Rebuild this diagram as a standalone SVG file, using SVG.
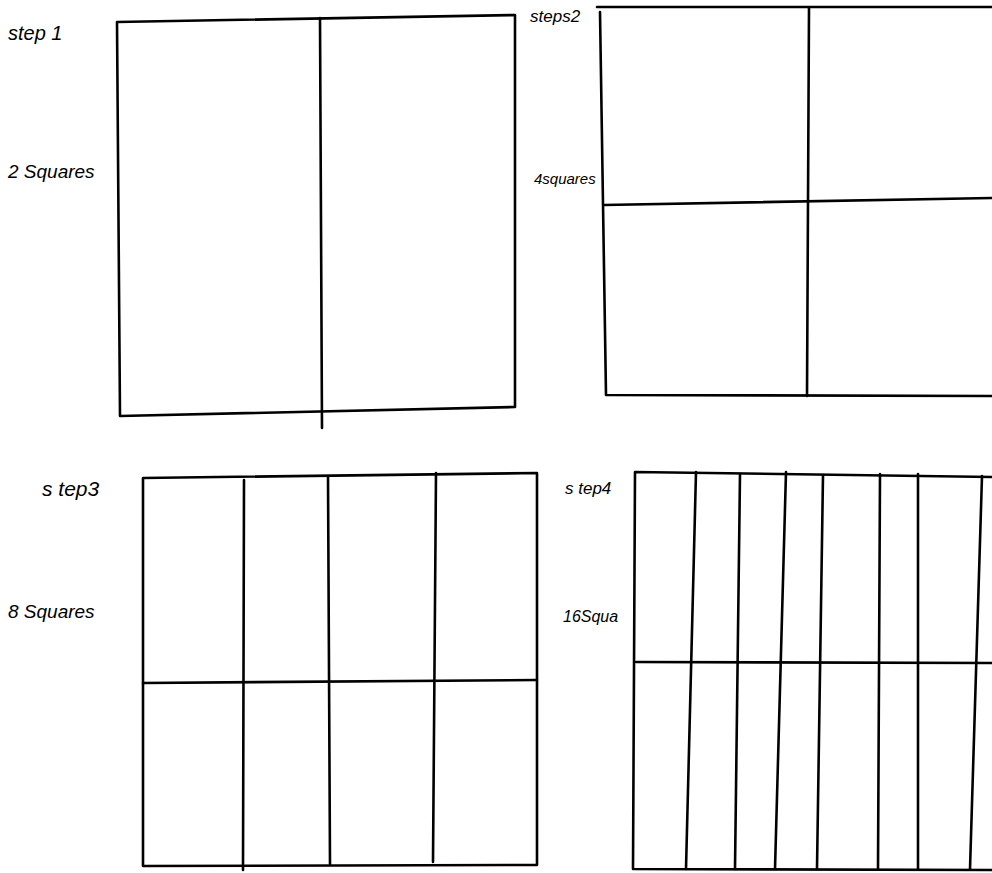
<svg xmlns="http://www.w3.org/2000/svg" width="992" height="873" viewBox="0 0 992 873">
<style>
.ln{fill:none;stroke:#000;stroke-width:2.6;stroke-linecap:round;stroke-linejoin:round}
.lb{font-family:"Liberation Sans",Arial,sans-serif;fill:#000;font-style:italic}
</style>
<rect width="992" height="873" fill="#fff"/>
<g id="step1">
<path class="ln" d="M117,22 L515,15 L515,407 L120,416 Z"/>
<path class="ln" d="M320,18 L322,428"/>
<text class="lb" x="8" y="40" font-size="20">step 1</text>
<text class="lb" x="8" y="178" font-size="19">2 Squares</text>
</g>
<g id="step2">
<path class="ln" d="M992,7 L597,7"/>
<path class="ln" d="M600,12 L606,395 L992,396"/>
<path class="ln" d="M809,8 L807,396"/>
<path class="ln" d="M604,205 L992,198"/>
<text class="lb" x="530" y="22" font-size="17">steps2</text>
<text class="lb" x="534" y="184" font-size="15">4squares</text>
</g>
<g id="step3">
<path class="ln" d="M143,478 L537,473 L537,865 L143,866 Z"/>
<path class="ln" d="M244,480 L243,870"/>
<path class="ln" d="M328,476 L330,864"/>
<path class="ln" d="M436,473 L433,862"/>
<path class="ln" d="M143,683 L537,680"/>
<text class="lb" x="42" y="496" font-size="21">s tep3</text>
<text class="lb" x="8" y="618" font-size="19">8 Squares</text>
</g>
<g id="step4">
<path class="ln" d="M992,477 L635,472 L633,869 L992,870"/>
<path class="ln" d="M696,472 L686,869"/>
<path class="ln" d="M740,474 L735,869"/>
<path class="ln" d="M786,472 L775,869"/>
<path class="ln" d="M823,475 L817,869"/>
<path class="ln" d="M880,474 L878,869"/>
<path class="ln" d="M918,474 L918,869"/>
<path class="ln" d="M982,476 L970,869"/>
<path class="ln" d="M636,662 L992,663"/>
<text class="lb" x="565" y="494" font-size="17">s tep4</text>
<text class="lb" x="563" y="622" font-size="16">16Squa</text>
</g>
</svg>
